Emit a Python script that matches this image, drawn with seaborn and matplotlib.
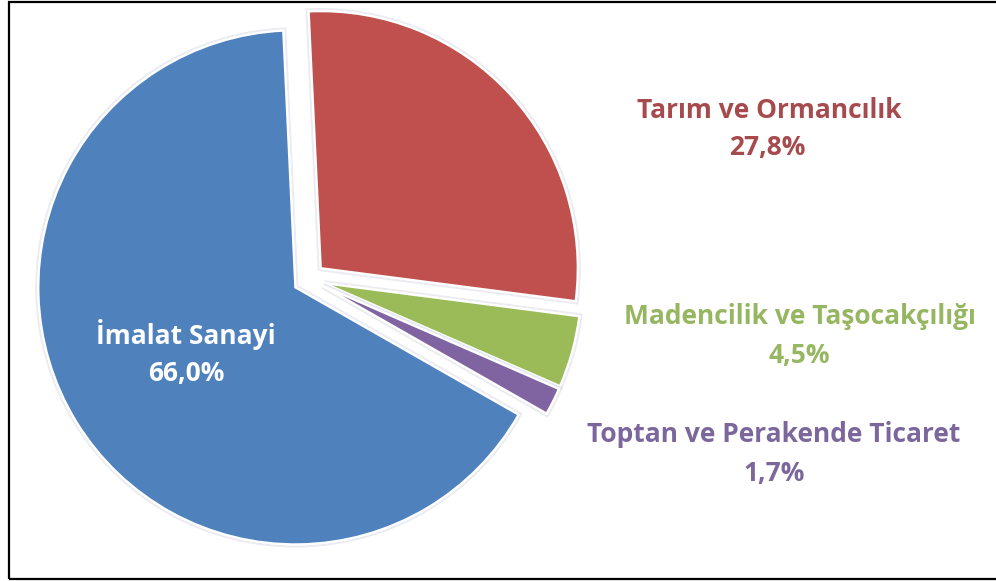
import matplotlib
matplotlib.use("Agg")
import matplotlib.pyplot as plt
import matplotlib.patheffects as pe
from matplotlib.patches import Rectangle
import seaborn as sns

# Sector shares (percent), listed clockwise from the top
sectors = ["Tarım ve Ormancılık", "Madencilik ve Taşocakçılığı",
           "Toptan ve Perakende Ticaret", "İmalat Sanayi"]
shares = [27.8, 4.5, 1.7, 66.0]

slice_colors = ["#C0504D", "#9BBB59", "#8064A2", "#4F81BD"]
text_colors = ["#A64A4D", "#97B662", "#7B679C", "#FFFFFF"]

sns.set_theme(style="white")
plt.rcParams["font.family"] = ["Open Sans", "DejaVu Sans"]

W, H = 996, 581
fig = plt.figure(figsize=(W / 100, H / 100), dpi=100)
ax = fig.add_axes([0, 0, 1, 1])

palette = sns.color_palette(slice_colors)
center = (309, H - 279)
radius = 257
wedges, _ = ax.pie(
    shares,
    colors=palette,
    startangle=92.7,
    counterclock=False,
    explode=[16] * len(shares),  # offset in data units (pixels here)
    center=center,
    radius=radius,
    wedgeprops=dict(edgecolor="white", linewidth=1.6),
)
# faint soft halo around each slice
for w in wedges:
    w.set_path_effects([
        pe.withStroke(linewidth=4.5, foreground=(0.82, 0.84, 0.88, 0.45)),
        pe.Normal(),
    ])

ax.set_xlim(0, W)
ax.set_ylim(0, H)
ax.set_aspect("equal")
ax.axis("off")


def pct(v):
    return f"{v:.1f}".replace(".", ",") + "%"


# Label anchor points (name line, value line) for each sector
label_pos = [
    ((769, H - 110), (767, H - 148)),
    ((800, H - 317), (799, H - 356)),
    ((774, H - 435), (774, H - 474)),
    ((186, H - 335), (186, H - 373)),
]
for name, val, col, (p1, p2) in zip(sectors, shares, text_colors, label_pos):
    ax.text(*p1, name, ha="center", va="center", fontsize=19,
            fontweight="bold", color=col)
    ax.text(*p2, pct(val), ha="center", va="center", fontsize=19,
            fontweight="bold", color=col)

# Chart frame
ax.add_patch(Rectangle((8.5, 2), 1200, 577, fill=False, edgecolor="black",
                       linewidth=1.6, clip_on=True))

fig.savefig("out.png", dpi=100)
